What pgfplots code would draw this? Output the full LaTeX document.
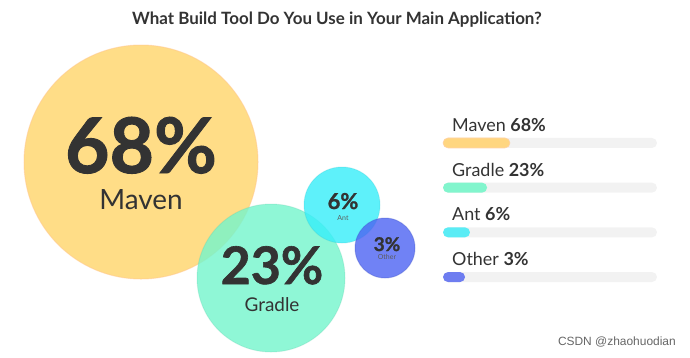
\documentclass[border=0pt]{standalone}
\usepackage{pgfplots}
\pgfplotsset{compat=1.18}
\usepackage{fontspec}
\setmainfont{Lato}
\newfontfamily\heavy{Lato}[BoldFeatures={FakeBold=1.2}]
\newfontfamily\wmfont{Liberation Sans}
\definecolor{maven}{RGB}{255,212,105}
\definecolor{gradle}{RGB}{115,245,204}
\definecolor{ant}{RGB}{54,238,249}
\definecolor{other}{RGB}{76,99,242}
\definecolor{txt}{RGB}{51,51,51}
\definecolor{track}{RGB}{242,242,242}
\newcommand{\fs}[1]{\fontsize{#1}{#1}\selectfont}
\begin{document}
\begin{tikzpicture}[x=1bp,y=1bp]
\useasboundingbox (0,0) rectangle (690,357);
\begin{axis}[at={(0,0)}, anchor=south west, scale only axis,
  width=690bp, height=357bp, xmin=0, xmax=690, ymin=0, ymax=357,
  y dir=reverse, hide axis, clip=false]
\addplot[only marks, mark=*, mark size=117bp, mark options={fill=maven, fill opacity=0.8, draw=orange!45, draw opacity=0.5, line width=1bp}] coordinates {(141,162)};
\addplot[only marks, mark=*, mark size=74bp, mark options={fill=gradle, fill opacity=0.8, draw=gradle!80!black, draw opacity=0.2, line width=1bp}] coordinates {(271,278)};
\addplot[only marks, mark=*, mark size=38bp, mark options={fill=ant, fill opacity=0.8, draw=ant!80!black, draw opacity=0.2, line width=1bp}] coordinates {(342,205)};
\addplot[only marks, mark=*, mark size=30bp, mark options={fill=other, fill opacity=0.8, draw=other!80!black, draw opacity=0.3, line width=1bp}] coordinates {(385,248)};
\end{axis}
\begin{axis}[at={(443bp,236.4bp)}, anchor=north west, scale only axis,
  width=214bp, height=178.8bp, xmin=0, xmax=100, ymin=-0.5, ymax=3.5,
  y dir=reverse, hide axis, clip=false, xbar, bar width=10bp, bar shift=0pt]
\addplot[fill=track, draw=none, rounded corners=5bp] coordinates {(100,0) (100,1) (100,2) (100,3)};
\addplot[fill={rgb,255:red,255;green,214;blue,128}, draw=orange!35, line width=0.6bp, rounded corners=5bp] coordinates {(31.3,0)};
\addplot[fill={rgb,255:red,130;green,245;blue,205}, draw=none, rounded corners=5bp] coordinates {(20.6,1)};
\addplot[fill={rgb,255:red,90;green,236;blue,245}, draw=none, rounded corners=5bp] coordinates {(12.6,2)};
\addplot[fill={rgb,255:red,110;green,125;blue,240}, draw=none, rounded corners=5bp] coordinates {(10.3,3)};
\end{axis}
% circle texts (image coords: x, 357-y)
\node[anchor=base, text=txt, font=\heavy\fs{77}\bfseries, inner sep=0] at (141,184) {68\%};
\node[anchor=base, text=txt, font=\fs{28}, inner sep=0] at (141,148) {Maven};
\node[anchor=base, text=txt, font=\heavy\fs{52}\bfseries, inner sep=0] at (272,73) {23\%};
\node[anchor=base, text=txt, font=\fs{19}, inner sep=0] at (272,46) {Gradle};
\node[anchor=base, text=txt, font=\heavy\fs{22}\bfseries, inner sep=0] at (343,148) {6\%};
\node[anchor=base, text=txt!80, font=\fs{7}, inner sep=0] at (343,137) {Ant};
\node[anchor=base, text=txt, font=\heavy\fs{19}\bfseries, inner sep=0] at (387,106) {3\%};
\node[anchor=base, text=txt!80, font=\fs{7}, inner sep=0] at (387,98) {Other};
% bar labels
\node[anchor=base west, text=txt, font=\fs{18}, inner sep=0] at (452,226) {Maven \textbf{68\%}};
\node[anchor=base west, text=txt, font=\fs{18}, inner sep=0] at (452,181) {Gradle \textbf{23\%}};
\node[anchor=base west, text=txt, font=\fs{18}, inner sep=0] at (452,137) {Ant \textbf{6\%}};
\node[anchor=base west, text=txt, font=\fs{18}, inner sep=0] at (452,92) {Other \textbf{3\%}};
% title
\node[anchor=base, text=txt, font=\fs{17}\bfseries] at (337,333) {What Build Tool Do You Use in Your Main Application?};
\node[anchor=base east, text=gray!80!black, font=\wmfont\fs{12}, inner sep=0] at (676,12) {CSDN @zhaohuodian};
\end{tikzpicture}
\end{document}
